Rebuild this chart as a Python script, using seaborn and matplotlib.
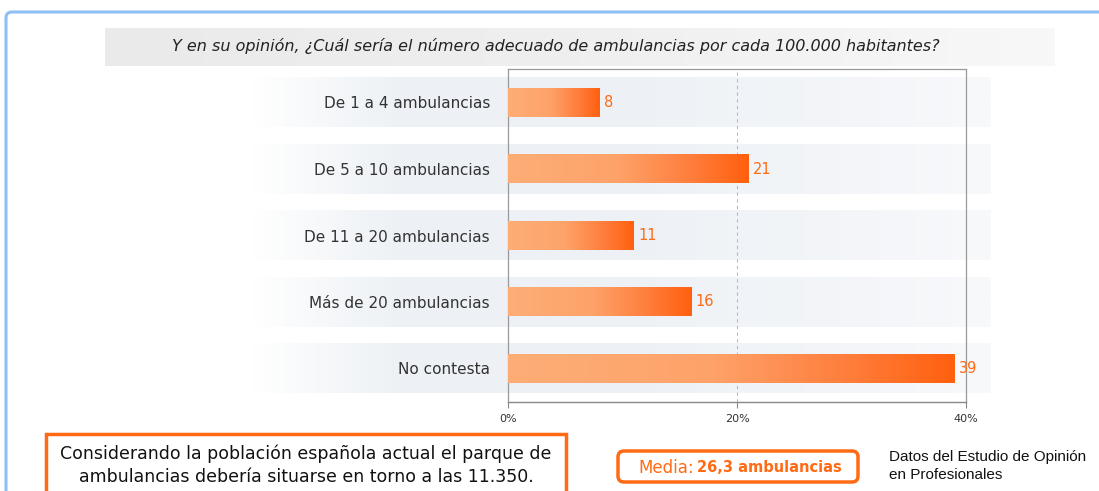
import numpy as np
import pandas as pd
import matplotlib
matplotlib.use("Agg")
import matplotlib.pyplot as plt
import seaborn as sns
from matplotlib.patches import Rectangle, FancyBboxPatch
from matplotlib.colors import LinearSegmentedColormap

# -------------------------
# DATA
# -------------------------
categories = ["De 1 a 4 ambulancias", "De 5 a 10 ambulancias", "De 11 a 20 ambulancias",
              "Más de 20 ambulancias", "No contesta"]
values = [8, 21, 11, 16, 39]
xticks = [0, 20, 40]
xtick_labels = ["0%", "20%", "40%"]

title = "Y en su opinión, ¿Cuál sería el número adecuado de ambulancias por cada 100.000 habitantes?"
note = "Considerando la población española actual el parque de\nambulancias debería situarse en torno a las 11.350."
media_label = "Media:"
media_value = "26,3 ambulancias"
source = "Datos del Estudio de Opinión\nen Profesionales"

df = pd.DataFrame({"cat": categories, "pct": values})

ORANGE = "#FF6A14"
W, H = 1099, 491

sns.set_style("white")
plt.rcParams["font.family"] = ["DejaVu Sans"]

fig = plt.figure(figsize=(W / 100, H / 100), dpi=100)
fig.patch.set_facecolor("white")

# -------------------------
# TITLE BAND
# -------------------------
tax = fig.add_axes([105 / W, 1 - 66 / H, 950 / W, 38 / H])
tax.axis("off")
tgrad = np.linspace(0, 1, 300)[None, :]
tcmap = LinearSegmentedColormap.from_list("t", [(0, "#EAEAEA"), (0.5, "#EFEFEF"), (1, "#F8F8F8")])
tax.imshow(tgrad, cmap=tcmap, aspect="auto", extent=[0, 1, 0, 1])
tax.set_xlim(0, 1)
tax.set_ylim(0, 1)
fig.text(556 / W, 1 - 46 / H, title, ha="center", va="center", fontsize=11.5,
         style="italic", color="#222222")

# -------------------------
# MAIN AXES
# -------------------------
ax = fig.add_axes([508 / W, 1 - 401.75 / H, 458 / W, 332.5 / H])
sns.barplot(data=df, x="pct", y="cat", orient="h", width=0.43, color=ORANGE, ax=ax)

# background bands behind each row
band_cmap = LinearSegmentedColormap.from_list(
    "band", [(0, "#FFFFFF"), (0.2, "#EDF1F5"), (0.55, "#EEF2F6"), (0.85, "#F4F6F9"), (1, "#F8F9FB")])
bgrad = np.linspace(0, 1, 400)[None, :]
for i in range(len(categories)):
    ax.imshow(bgrad, cmap=band_cmap, aspect="auto", zorder=0, clip_on=False,
              extent=[-22.5, 42.2, i + 0.375, i - 0.375])

# gradient bars
bar_cmap = LinearSegmentedColormap.from_list(
    "bar", [(0, "#FDAD77"), (0.45, "#FEA36A"), (0.75, "#FF7F3E"), (1, "#FF600E")])
grad = np.linspace(0, 1, 256)[None, :]
for p in ax.patches:
    x0, y0, w, h = p.get_x(), p.get_y(), p.get_width(), p.get_height()
    ax.imshow(grad, cmap=bar_cmap, aspect="auto", zorder=3,
              extent=[x0, x0 + w, y0 + h, y0])
    p.set_visible(False)

ax.bar_label(ax.containers[0], labels=[str(v) for v in values], padding=3,
             color=ORANGE, fontsize=10.5)

ax.axvline(20, color="#BBBBBB", ls=(0, (3, 3)), lw=0.8, zorder=1)

ax.set_xlim(0, 40)
ax.set_ylim(len(categories) - 0.5, -0.5)
ax.set_xticks(xticks)
ax.set_xticklabels(xtick_labels, fontsize=8, color="#333333")
ax.set_xlabel("")
ax.set_ylabel("")
ax.tick_params(axis="y", length=0, pad=13, labelsize=11, labelcolor="#333333")
ax.tick_params(axis="x", length=4, width=0.8, color="#888888", direction="out", pad=5, bottom=True)
for s in ["left", "top", "right"]:
    ax.spines[s].set_color("#999999")
    ax.spines[s].set_linewidth(0.9)
ax.spines["bottom"].set_color("#888888")
ax.spines["bottom"].set_linewidth(1.0)
ax.set_facecolor("white")

# -------------------------
# BOTTOM BOXES & NOTES
# -------------------------
fig.patches.append(Rectangle((46 / 100, -0.3), (566 - 46) / 100, (H - 434) / 100 + 0.3,
                             transform=fig.dpi_scale_trans, fill=False,
                             edgecolor=ORANGE, lw=2.5))
fig.text(306 / W, 1 - 465 / H, note, ha="center", va="center", fontsize=12.5,
         color="#111111", linespacing=1.35)

fig.patches.append(FancyBboxPatch((618 / 100, (H - 482) / 100), (858 - 618) / 100, (482 - 451) / 100,
                                  boxstyle="round,pad=0,rounding_size=0.06",
                                  transform=fig.dpi_scale_trans, fill=False,
                                  edgecolor=ORANGE, lw=2.5))
fig.text(694 / W, 1 - 468 / H, media_label, ha="right", va="center", fontsize=12, color=ORANGE)
fig.text(697 / W, 1 - 468 / H, media_value, ha="left", va="center", fontsize=10.5,
         color=ORANGE, fontweight="bold")

fig.text(889 / W, 1 - 466 / H, source, ha="left", va="center", fontsize=11,
         family=["Liberation Sans", "DejaVu Sans"], color="#111111", linespacing=1.45)

# blue frame
fig.patches.append(FancyBboxPatch((6 / 100, -0.5), 12, (H - 12) / 100 + 0.5,
                                  boxstyle="round,pad=0,rounding_size=0.06",
                                  transform=fig.dpi_scale_trans, fill=False,
                                  edgecolor="#8DC0F5", lw=2.2))

fig.savefig("out.png", dpi=100)
